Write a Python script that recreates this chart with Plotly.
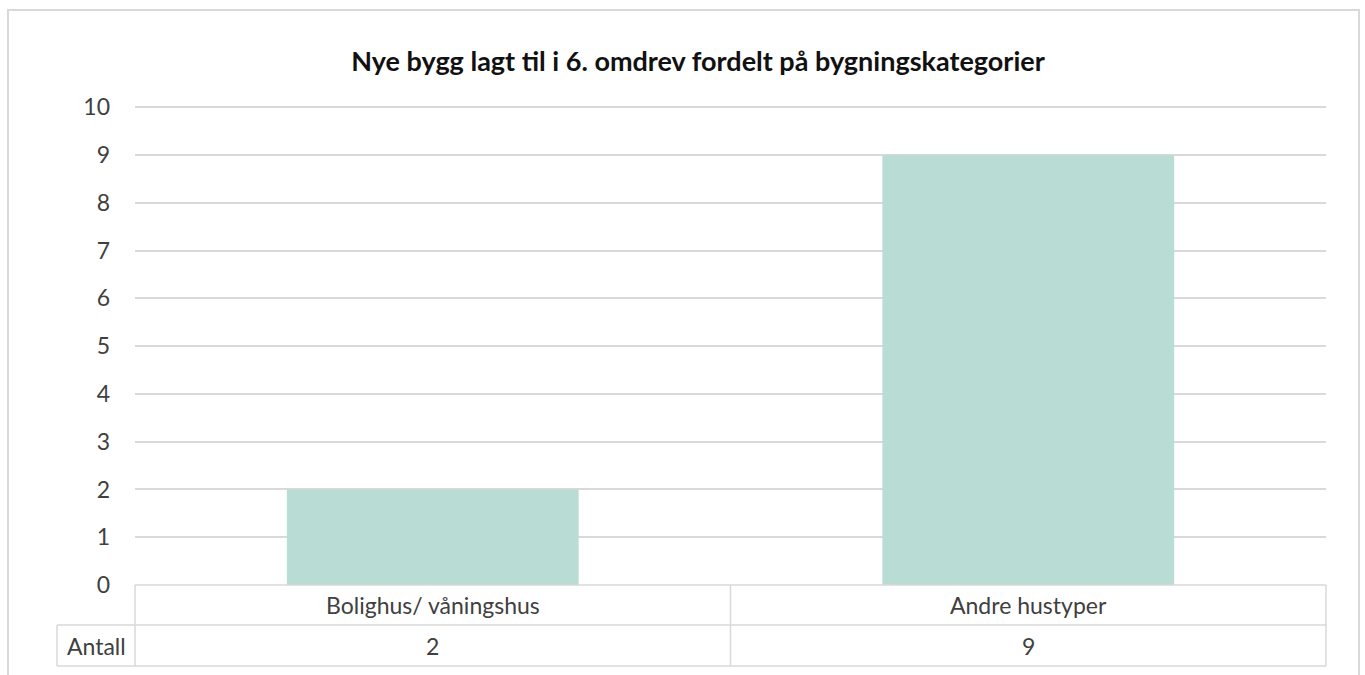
import plotly.graph_objects as go

# Data
categories = ["Bolighus/ våningshus", "Andre hustyper"]
antall = [2, 9]
row_label = "Antall"
y_ticks = [0, 1, 2, 3, 4, 5, 6, 7, 8, 9, 10]
title_text = "Nye bygg lagt til i 6. omdrev fordelt på bygningskategorier"

W, H = 1365, 675
ML, MR, MT, MB = 135, 39, 105, 90
PW, PH = W - ML - MR, H - MT - MB
Y_MAX = 10.05

def px_x(px):
    return (px - ML) / PW

def px_y(py):
    return (H - MB - py) / PH

BAR = "#b9dcd4"
GRID = "#d9d9d9"
TXT = "#404040"
FONT = "Lato"

fig = go.Figure(
    go.Bar(
        x=categories,
        y=antall,
        marker=dict(color=BAR, line=dict(width=0)),
        width=0.49,
        hoverinfo="skip",
    )
)

shapes = []
line = dict(color=GRID, width=1.5)
# outer chart frame
shapes.append(dict(type="rect", xref="paper", yref="paper",
                   x0=px_x(8), x1=px_x(1359), y0=px_y(690), y1=px_y(10),
                   line=dict(color="#d9d9d9", width=2), layer="below"))
# data table grid
row1_top, row2_top, row_bot = 585, 625, 666
left_cell = 57
shapes += [
    dict(type="line", xref="paper", yref="paper", x0=0, x1=1, y0=px_y(row1_top), y1=px_y(row1_top), line=line),
    dict(type="line", xref="paper", yref="paper", x0=px_x(left_cell), x1=1, y0=px_y(row2_top), y1=px_y(row2_top), line=line),
    dict(type="line", xref="paper", yref="paper", x0=px_x(left_cell), x1=1, y0=px_y(row_bot), y1=px_y(row_bot), line=line),
    dict(type="line", xref="paper", yref="paper", x0=px_x(left_cell), x1=px_x(left_cell), y0=px_y(row2_top), y1=px_y(row_bot), line=line),
    dict(type="line", xref="paper", yref="paper", x0=0, x1=0, y0=px_y(row1_top), y1=px_y(row_bot), line=line),
    dict(type="line", xref="paper", yref="paper", x0=0.5, x1=0.5, y0=px_y(row1_top), y1=px_y(row_bot), line=line),
    dict(type="line", xref="paper", yref="paper", x0=1, x1=1, y0=px_y(row1_top), y1=px_y(row_bot), line=line),
]

cell_font = dict(family=FONT, size=23, color=TXT)
annotations = []
for cat, val in zip(categories, antall):
    annotations.append(dict(x=cat, xref="x", yref="paper", y=px_y((row1_top + row2_top) / 2),
                            text=cat, showarrow=False, xanchor="center", yanchor="middle",
                            font=cell_font))
    annotations.append(dict(x=cat, xref="x", yref="paper", y=px_y((row2_top + row_bot) / 2),
                            text=str(val), showarrow=False, xanchor="center", yanchor="middle",
                            font=cell_font))
annotations.append(dict(x=px_x((left_cell + ML) / 2), xref="paper", yref="paper",
                        y=px_y((row2_top + row_bot) / 2), text=row_label, showarrow=False,
                        xanchor="center", yanchor="middle", font=cell_font))

fig.update_layout(
    width=W, height=H,
    margin=dict(l=ML, r=MR, t=MT, b=MB, pad=0),
    paper_bgcolor="white", plot_bgcolor="white",
    showlegend=False,
    bargap=0.51,
    title=dict(text="<b>" + title_text + "</b>", x=698 / W, xanchor="center",
               y=1 - 62 / H, yanchor="middle", xref="container", yref="container",
               font=dict(family=FONT, size=27, color="#111111")),
    xaxis=dict(showticklabels=False, showgrid=False, zeroline=False, showline=False,
               ticks="", fixedrange=True),
    yaxis=dict(range=[0, Y_MAX], tickvals=y_ticks, showgrid=True, gridcolor=GRID, gridwidth=1.5,
               zeroline=False, showline=False, ticks="", ticklabelstandoff=24,
               tickfont=dict(family=FONT, size=23, color=TXT), fixedrange=True),
    shapes=shapes,
    annotations=annotations,
)

fig.write_html("out.html")
